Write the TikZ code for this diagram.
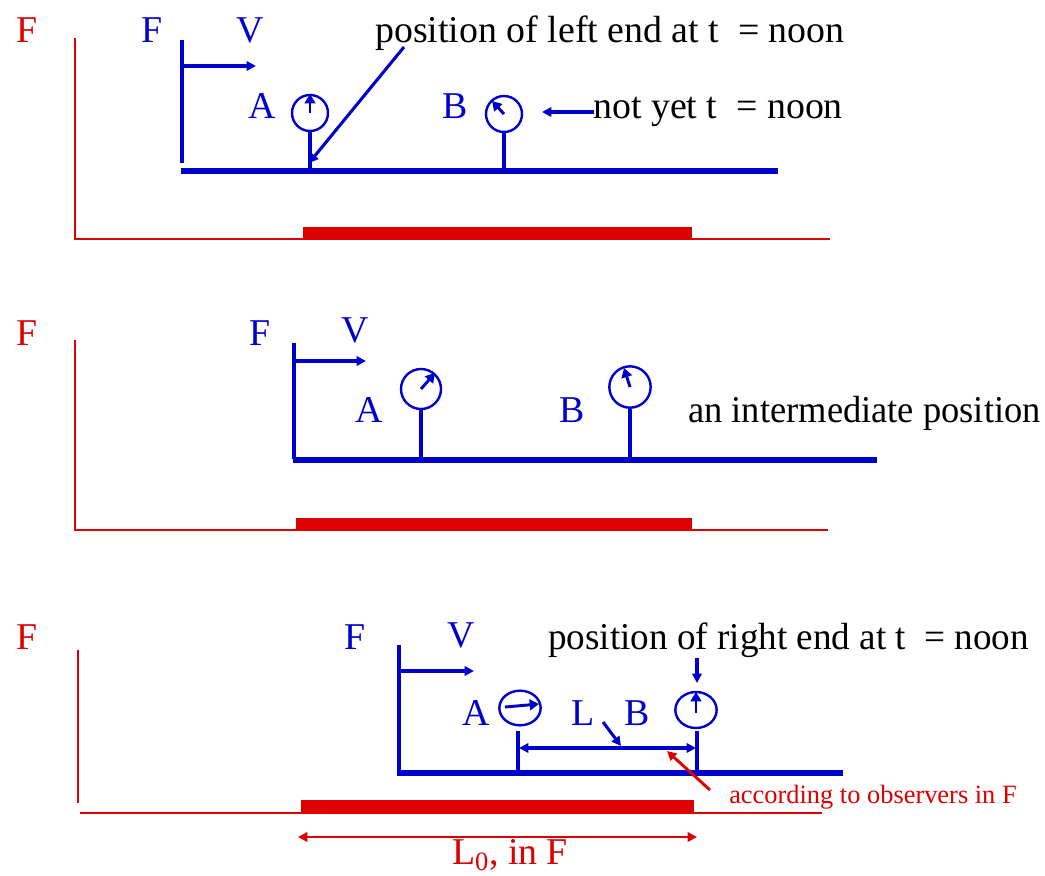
\documentclass[tikz,border=0pt]{standalone}
\usepackage{fontspec}
\setmainfont{Liberation Serif}
\usetikzlibrary{arrows.meta,shapes.geometric}
\definecolor{myblue}{RGB}{0,0,204}
\definecolor{myred}{RGB}{221,0,0}
\begin{document}
\begin{tikzpicture}[x=0.75pt,y=-0.75pt,
  big/.style={font=\fontsize{28.4}{32}\selectfont, inner sep=0pt},
  small/.style={font=\fontsize{19.8}{22}\selectfont, inner sep=0pt},
  bluetxt/.style={big, text=myblue},
  redtxt/.style={big, text=myred},
  blackl/.style={big, text=black, anchor=base west},
  bthin/.style={draw=myblue, line width=2.3pt},
  bthick/.style={draw=myblue, line width=3.9pt},
  rthin/.style={draw=myred, line width=1.9pt},
  rbar/.style={fill=myred},
  tip/.style={-{Triangle[length=7pt,width=7pt]}},
  dtip/.style={{Triangle[length=7pt,width=7pt]}-{Triangle[length=7pt,width=7pt]}},
  clock/.style={draw=myblue, line width=1.8pt, circle, minimum size=#1, inner sep=0pt},
  eclock/.style={draw=myblue, line width=1.8pt, ellipse, minimum width=31pt, minimum height=26pt, inner sep=0pt},
  hand/.style={draw=myblue, line width=2.2pt, -{Triangle[length=7pt,width=8pt]}},
]
\useasboundingbox (0,0) rectangle (1045,875);

% ================= Panel 1 =================
\node[redtxt, anchor=base] (rF1) at (27,42) {F};
\draw[rthin] (75,38) -- (75,239) -- (830,239);
\fill[rbar] (303,227) rectangle (692,239);

\node[bluetxt, anchor=base] (bF1) at (152,42) {F};
\node[bluetxt, anchor=base] (V1) at (250,42) {V};
\draw[bthin] (182,40) -- (182,163);
\coordinate (v1s) at (182,66);
\coordinate (v1e) at (256,66);
\draw[bthin, tip] (v1s) -- (v1e);
\draw[bthick] (181,171) -- (778,171);

\node[bluetxt, anchor=base] (A1) at (262,118) {A};
\node[clock=27pt] (cA1) at (310,113) {};
\draw[bthin] (cA1.south) -- (cA1.south |- 0,170);
\draw[hand] (cA1.center) -- ++(0,-19);
\coordinate (leftend) at (309,163);

\node[bluetxt, anchor=base] (B1) at (455,118) {B};
\node[clock=27pt] (cB1) at (504,114) {};
\draw[bthin] (cB1.south) -- (cB1.south |- 0,170);
\draw[hand] (cB1.center) -- ++(-12,-13);

\node[blackl] (t1) at (375,42) {position of left end at t \ = noon};
\coordinate (t1s) at (404,47);
\draw[bthin, tip] (t1s) -- (leftend);

\node[blackl] (t2) at (593,118) {not yet t \ = noon};
\coordinate (nys) at (594,112);
\coordinate (nye) at (542,112);
\draw[bthin, tip] (nys) -- (nye);

% ================= Panel 2 =================
\node[redtxt, anchor=base] (rF2) at (27,345) {F};
\draw[rthin] (75,340) -- (75,530) -- (828,530);
\fill[rbar] (296,518) rectangle (692,530);

\node[bluetxt, anchor=base] (bF2) at (260,345) {F};
\node[bluetxt, anchor=base] (V2) at (355,342) {V};
\draw[bthin] (294,343) -- (294,459);
\coordinate (v2s) at (294,361);
\coordinate (v2e) at (366,361);
\draw[bthin, tip] (v2s) -- (v2e);
\draw[bthick] (293,460) -- (877,460);

\node[bluetxt, anchor=base] (A2) at (369,422) {A};
\node[clock=30pt] (cA2) at (421,389) {};
\draw[bthin] (cA2.south) -- (cA2.south |- 0,459);
\draw[hand] (cA2.center) -- ++(14,-16);

\node[bluetxt, anchor=base] (B2) at (572,422) {B};
\node[clock=31pt] (cB2) at (630,387) {};
\draw[bthin] (cB2.south) -- (cB2.south |- 0,459);
\draw[hand] (cB2.center) -- ++(-6,-19);

\node[blackl] (t3) at (688,422) {\scalebox{0.963}[1]{an intermediate position}};

% ================= Panel 3 =================
\node[redtxt, anchor=base] (rF3) at (27,649) {F};
\draw[rthin] (78,650) -- (78,803);
\draw[rthin] (80,813) -- (822,813);
\fill[rbar] (301,800) rectangle (694,812);

\node[bluetxt, anchor=base] (bF3) at (355,649) {F};
\node[bluetxt, anchor=base] (V3) at (461,647) {V};
\draw[bthin] (399,645) -- (399,773);
\coordinate (v3s) at (399,671);
\coordinate (v3e) at (474,671);
\draw[bthin, tip] (v3s) -- (v3e);
\draw[bthick] (397,773) -- (843,773);

\node[bluetxt, anchor=base] (A3) at (476,725) {A};
\node[eclock] (cA3) at (520,708) {};
\draw[bthin] (518,731) -- (518,772);
\draw[hand] (505,707) -- (539,704);

\node[bluetxt, anchor=base] (L3) at (583,725) {L};
\node[bluetxt, anchor=base] (B3) at (637,725) {B};
\node[eclock, minimum width=31pt, minimum height=27pt] (cB3) at (696,710) {};
\draw[bthin] (697,731) -- (697,772);
\draw[hand] (696,713) -- (696,692);

\node[blackl] (t4) at (548,649) {\scalebox{0.98}[1]{position of right end at t \ = noon}};
\coordinate (rs) at (697,658);
\coordinate (re) at (697,683);
\draw[bthin, tip] (rs) -- (re);

\coordinate (Lleft) at (519,748);
\coordinate (Lright) at (696,748);
\draw[bthin, dtip] (Lleft) -- (Lright);
\coordinate (Ls) at (603,722);
\coordinate (Le) at (621,746);
\draw[bthin, tip] (Ls) -- (Le);

\node[small, text=myred, anchor=base west] (obs) at (729,803) {according to observers in F};
\coordinate (os) at (710,790);
\coordinate (oe) at (667,751);
\draw[rthin, line width=2.2pt, tip] (os) -- (oe);

\coordinate (L0l) at (298,837);
\coordinate (L0r) at (697,837);
\draw[rthin, dtip] (L0l) -- (L0r);
\node[redtxt, anchor=base] (L0) at (510,864) {L$_{\mathrm{0}}$, in F};
\end{tikzpicture}
\end{document}
